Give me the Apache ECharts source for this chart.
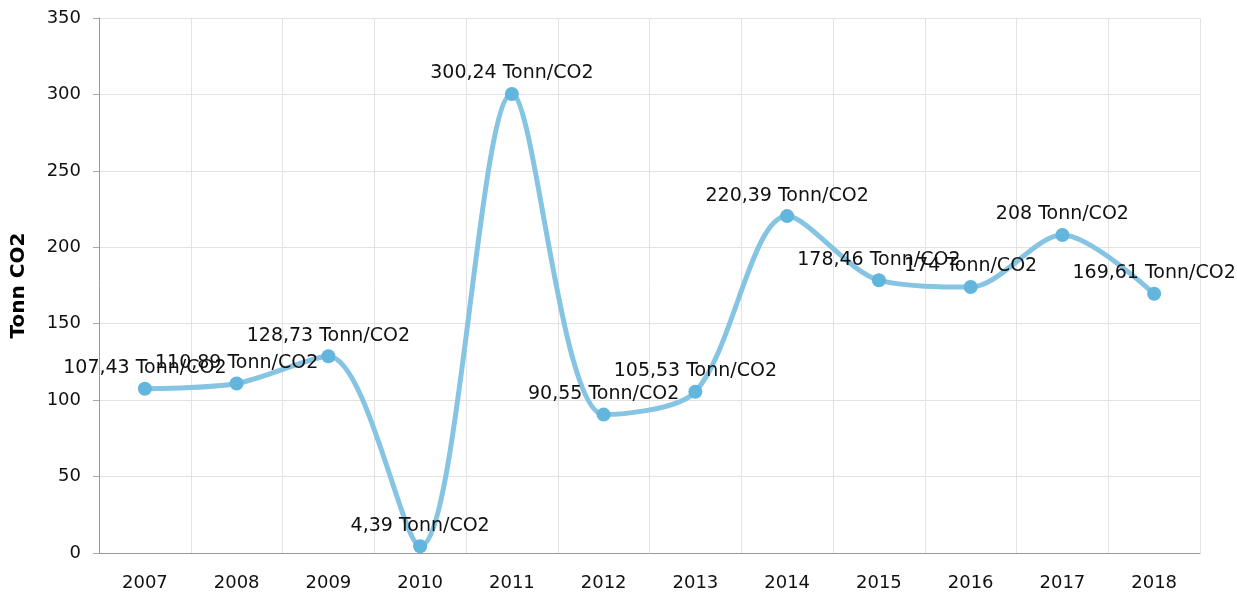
<!DOCTYPE html>
<html>
<head>
<meta charset="utf-8">
<script src="https://cdn.jsdelivr.net/npm/echarts@6/dist/echarts.min.js"></script>
<style>
  html, body { margin: 0; padding: 0; background: #fff; }
  #chart { width: 1237px; height: 593px; }
</style>
</head>
<body>
<div id="chart"></div>
<script>
// years on the x axis
const years = ['2007', '2008', '2009', '2010', '2011', '2012', '2013', '2014', '2015', '2016', '2017', '2018'];
// emissions per year, tonnes CO2
const co2 = [107.43, 110.89, 128.73, 4.39, 300.24, 90.55, 105.53, 220.39, 178.46, 174, 208, 169.61];
const yTicks = [0, 50, 100, 150, 200, 250, 300, 350];

const font = 'DejaVu Sans, Verdana, sans-serif';
const chart = echarts.init(document.getElementById('chart'));

const fmt = v => String(v).replace('.', ',') + ' Tonn/CO2';

chart.setOption({
    animation: false,
    grid: { left: 99, right: 37, top: 18, bottom: 40 },
    xAxis: {
        type: 'category',
        data: years,
        axisLine: { lineStyle: { color: '#999' } },
        axisTick: { alignWithLabel: true, length: 6, lineStyle: { color: '#aaa' } },
        axisLabel: { color: '#111', fontFamily: font, fontSize: 18, margin: 21 },
        splitLine: { show: true, lineStyle: { color: '#e3e3e3' } }
    },
    yAxis: {
        type: 'value',
        min: yTicks[0],
        max: yTicks[yTicks.length - 1],
        interval: 50,
        name: 'Tonn CO2',
        nameLocation: 'middle',
        nameGap: 70,
        nameTextStyle: { color: '#000', fontFamily: font, fontSize: 20, fontWeight: 'bold' },
        axisLine: { show: true, lineStyle: { color: '#999' } },
        axisTick: { show: true, length: 6, lineStyle: { color: '#aaa' } },
        axisLabel: { color: '#111', fontFamily: font, fontSize: 18, margin: 18 },
        splitLine: { lineStyle: { color: '#e3e3e3' } }
    },
    series: [{
        type: 'line',
        data: co2,
        smooth: 0.3,
        symbol: 'circle',
        symbolSize: 14,
        itemStyle: { color: '#62b5dd' },
        lineStyle: { color: '#86c4e3', width: 5 },
        label: {
            show: true,
            position: 'top',
            distance: 4,
            color: '#111',
            fontFamily: font,
            fontSize: 19,
            formatter: p => fmt(p.value)
        },
        labelLayout: { hideOverlap: false }
    }]
});
</script>
</body>
</html>
